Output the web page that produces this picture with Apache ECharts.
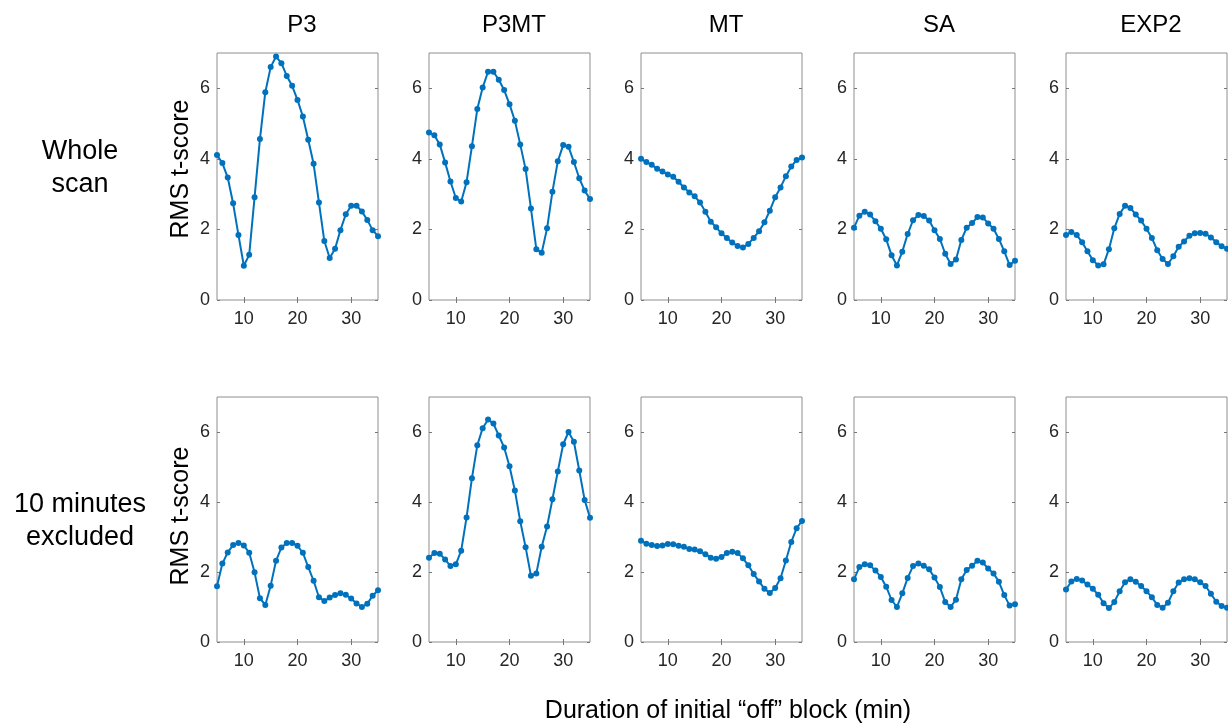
<!DOCTYPE html>
<html>
<head>
<meta charset="utf-8">
<script src="https://cdn.jsdelivr.net/npm/echarts@6/dist/echarts.min.js"></script>
</head>
<body style="margin:0;background:#fff">
<div id="container" style="width:1228px;height:726px;"></div>
<script type="text/javascript">
// duration of initial "off" block (min)
var minutes = [5,6,7,8,9,10,11,12,13,14,15,16,17,18,19,20,21,22,23,24,25,26,27,28,29,30,31,32,33,34,35];

var panelNames = ['P3', 'P3MT', 'MT', 'SA', 'EXP2'];
var rowNames = ['Whole\nscan', '10 minutes\nexcluded'];
var xTicks = [10, 20, 30];
var yTicks = [0, 2, 4, 6];

// Whole scan
var wholeP3   = [4.11,3.88,3.47,2.74,1.84,0.97,1.28,2.91,4.56,5.89,6.60,6.90,6.71,6.35,6.07,5.67,5.20,4.54,3.86,2.76,1.67,1.19,1.45,1.98,2.43,2.67,2.67,2.51,2.27,1.98,1.81];
var wholeP3MT = [4.75,4.67,4.41,3.90,3.36,2.89,2.79,3.34,4.36,5.41,6.02,6.47,6.47,6.24,5.95,5.55,5.08,4.41,3.71,2.59,1.44,1.34,2.03,3.07,3.93,4.39,4.34,3.91,3.45,3.10,2.86];
var wholeMT   = [4.00,3.91,3.83,3.72,3.64,3.56,3.49,3.35,3.19,3.05,2.94,2.76,2.50,2.22,2.06,1.89,1.76,1.63,1.53,1.49,1.59,1.76,1.95,2.20,2.53,2.91,3.19,3.51,3.78,3.97,4.04];
var wholeSA   = [2.05,2.39,2.50,2.42,2.23,2.02,1.72,1.27,0.98,1.37,1.87,2.26,2.41,2.38,2.25,1.98,1.73,1.31,1.02,1.15,1.70,2.05,2.18,2.35,2.34,2.17,2.02,1.73,1.38,0.99,1.11];
var wholeEXP2 = [1.84,1.93,1.84,1.64,1.38,1.13,0.98,1.01,1.44,2.03,2.44,2.67,2.61,2.42,2.25,2.02,1.76,1.41,1.16,1.02,1.24,1.51,1.66,1.82,1.89,1.90,1.88,1.77,1.64,1.52,1.45];

// 10 minutes excluded
var exclP3   = [1.59,2.24,2.56,2.77,2.83,2.76,2.55,1.99,1.25,1.06,1.61,2.32,2.70,2.83,2.83,2.75,2.55,2.14,1.75,1.28,1.17,1.27,1.34,1.39,1.35,1.24,1.10,1.00,1.09,1.32,1.48];
var exclP3MT = [2.41,2.54,2.52,2.36,2.17,2.22,2.61,3.56,4.68,5.62,6.11,6.36,6.24,5.90,5.56,5.02,4.33,3.45,2.71,1.89,1.96,2.72,3.30,4.08,4.87,5.65,6.00,5.72,4.90,4.06,3.55];
var exclMT   = [2.89,2.81,2.77,2.74,2.76,2.80,2.79,2.75,2.72,2.66,2.64,2.59,2.51,2.41,2.38,2.43,2.54,2.58,2.54,2.39,2.19,1.94,1.73,1.52,1.40,1.54,1.82,2.33,2.86,3.25,3.46];
var exclSA   = [1.79,2.14,2.22,2.19,2.04,1.86,1.58,1.20,1.00,1.39,1.83,2.17,2.24,2.18,2.08,1.84,1.57,1.14,1.00,1.21,1.79,2.06,2.18,2.32,2.27,2.10,1.96,1.72,1.34,1.04,1.08];
var exclEXP2 = [1.50,1.73,1.80,1.76,1.64,1.52,1.35,1.11,0.97,1.14,1.45,1.71,1.79,1.72,1.60,1.45,1.28,1.06,0.98,1.12,1.45,1.70,1.79,1.82,1.79,1.71,1.60,1.38,1.15,1.03,0.98];

var rows = [
    [wholeP3, wholeP3MT, wholeMT, wholeSA, wholeEXP2],
    [exclP3, exclP3MT, exclMT, exclSA, exclEXP2]
];

var font = '"Liberation Sans", Arial, sans-serif';
var lineColor = '#0072BD';
var colLeft = [217, 429, 641, 854, 1066];
var rowTop = [53, 397];
var rowHeight = [247, 245];

var dom = document.getElementById('container');
var myChart = echarts.init(dom);

var grids = [], xAxes = [], yAxes = [], series = [], titles = [];

for (var r = 0; r < 2; r++) {
    for (var c = 0; c < 5; c++) {
        var g = grids.length;
        grids.push({
            left: colLeft[c], top: rowTop[r], width: 161, height: rowHeight[r],
            show: true, borderColor: '#8e8e8e', borderWidth: 1, backgroundColor: '#fff'
        });
        // bottom + top x axes (top one only for mirrored ticks)
        [['bottom', true], ['top', false]].forEach(function (p) {
            xAxes.push({
                type: 'value', gridIndex: g, position: p[0], min: 5, max: 35,
                axisLine: { show: false },
                splitLine: { show: false },
                axisTick: { show: true, inside: true, length: 3, customValues: xTicks,
                    lineStyle: { color: '#777' } },
                axisLabel: { show: p[1], customValues: xTicks, margin: 10,
                    fontSize: 18, color: '#262626', fontFamily: font }
            });
        });
        [['left', true], ['right', false]].forEach(function (p) {
            yAxes.push({
                type: 'value', gridIndex: g, position: p[0], min: 0, max: 7,
                axisLine: { show: false },
                splitLine: { show: false },
                axisTick: { show: true, inside: true, length: 3, customValues: yTicks,
                    lineStyle: { color: '#777' } },
                axisLabel: { show: p[1], customValues: yTicks, margin: 7,
                    fontSize: 18, color: '#262626', fontFamily: font }
            });
        });
        var vals = rows[r][c];
        var pts = [];
        for (var i = 0; i < minutes.length; i++) pts.push([minutes[i], vals[i]]);
        series.push({
            type: 'line', xAxisIndex: 2 * g, yAxisIndex: 2 * g,
            data: pts, symbol: 'circle', symbolSize: 6,
            lineStyle: { color: lineColor, width: 2 },
            itemStyle: { color: lineColor },
            silent: true
        });
        if (r === 0) {
            titles.push({
                text: panelNames[c], left: colLeft[c] + 80, top: 8, textAlign: 'center',
                textStyle: { fontSize: 24, fontWeight: 'normal', color: '#000', fontFamily: font }
            });
        }
    }
}

function label(text, x, y, size, rot) {
    return {
        type: 'text', x: x, y: y, rotation: rot || 0,
        style: { text: text, textAlign: 'center', textVerticalAlign: 'middle',
            font: size + 'px ' + font, lineHeight: 33, fill: '#000' }
    };
}

var option = {
    animation: false,
    title: titles,
    grid: grids,
    xAxis: xAxes,
    yAxis: yAxes,
    series: series,
    graphic: [
        label(rowNames[0], 80, 168, 27),
        label(rowNames[1], 80, 521, 27),
        label('RMS t-score', 181, 169, 25, Math.PI / 2),
        label('RMS t-score', 181, 516, 25, Math.PI / 2),
        label('Duration of initial \u201coff\u201d block (min)', 728, 711, 25)
    ]
};
myChart.setOption(option, true);
</script>
</body>
</html>
